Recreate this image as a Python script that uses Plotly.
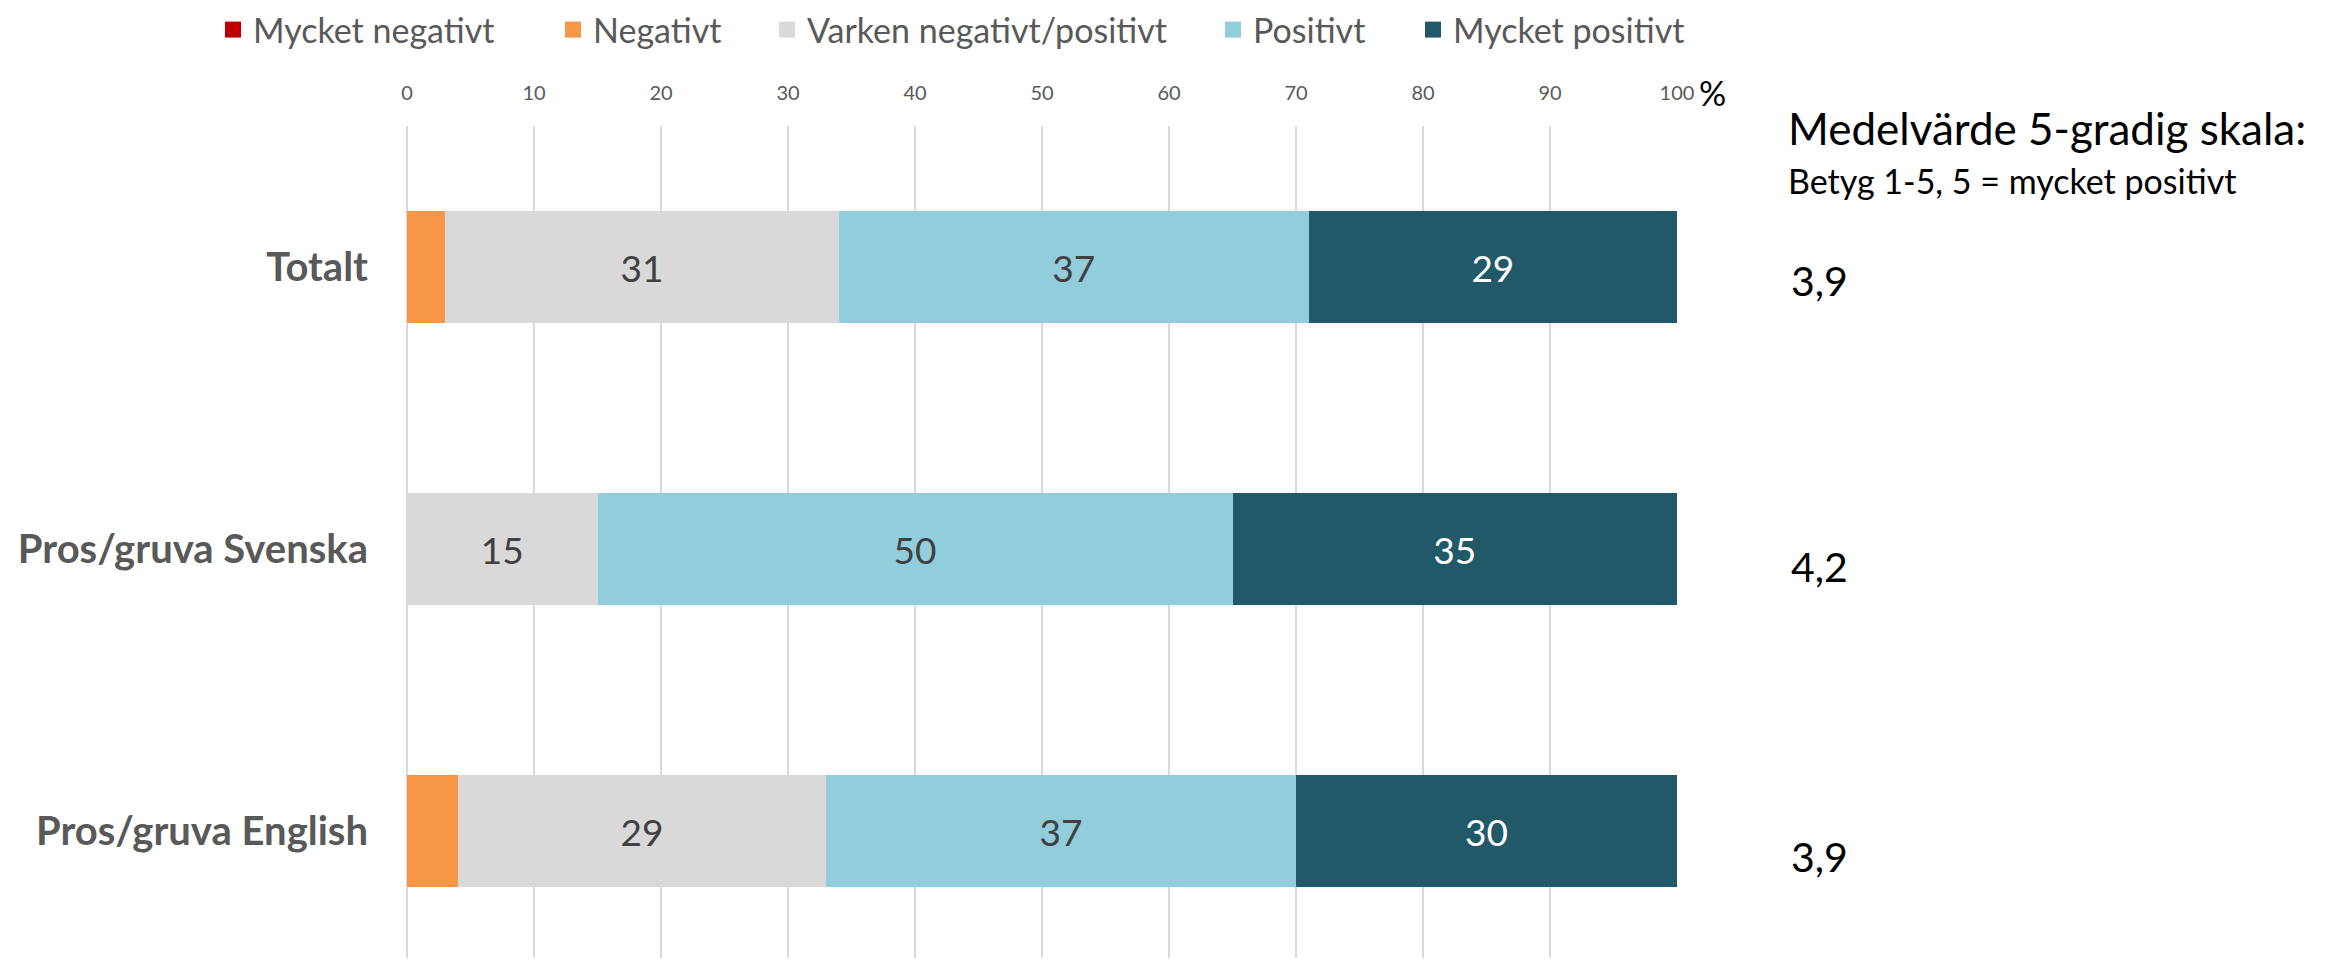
import plotly.graph_objects as go

# ---- data ----
categories = ["Totalt", "Pros/gruva Svenska", "Pros/gruva English"]
series_names = ["Mycket negativt", "Negativt", "Varken negativt/positivt", "Positivt", "Mycket positivt"]
mycket_negativt = [0, 0, 0]
negativt = [3, 0, 4]
varken = [31, 15, 29]
positivt = [37, 50, 37]
mycket_positivt = [29, 35, 30]
medelvarde = ["3,9", "4,2", "3,9"]
x_ticks = [0, 10, 20, 30, 40, 50, 60, 70, 80, 90, 100]

series_values = [mycket_negativt, negativt, varken, positivt, mycket_positivt]
colors = ["#C00000", "#F79646", "#D9D9D9", "#92CDDC", "#215968"]
label_colors = ["#FFFFFF", "#404040", "#404040", "#404040", "#FFFFFF"]

FONT = "Lato"
OFF = 8                      # page body margin
W, H = 2310, 950
ML, MT = 407 - OFF, 126 - OFF
PW = 1677 - 407
MR = W - ML - PW
MB = 0
PH = H - MT - MB
UNIT = 282                   # px per category


def px_x(px):
    return (px - OFF - ML) / PW


def px_y(py):
    return (H - MB - (py - OFF)) / PH


def cx(px):
    return (px - OFF) / W


def cy(py):
    return 1 - (py - OFF) / H


fig = go.Figure()

for i, (name, vals) in enumerate(zip(series_names, series_values)):
    fig.add_trace(go.Bar(
        y=categories, x=vals, orientation="h", name=name,
        marker=dict(color=colors[i], line=dict(width=0)),
        text=[str(v) if v >= 10 else "" for v in vals],
        textposition="inside", insidetextanchor="middle",
        textfont=dict(family=FONT, size=37, color=label_colors[i]),
        constraintext="none",
        showlegend=False, hoverinfo="x+name",
    ))

# legend proxies (one legend per item so spacing matches)
legend_px = [213, 553, 767, 1213, 1413]
for i, name in enumerate(series_names):
    lg = "legend" if i == 0 else f"legend{i+1}"
    fig.add_trace(go.Scatter(
        x=[None], y=[None], mode="markers", name=name,
        marker=dict(symbol="square", size=21, color=colors[i]),
        legend=lg, showlegend=True,
    ))

legend_common = dict(
    orientation="h", yanchor="middle", xanchor="left",
    xref="container", yref="container",
    font=dict(family=FONT, size=34, color="#595959"),
    bgcolor="rgba(0,0,0,0)", borderwidth=0,
)
layout_legends = {}
for i in range(5):
    key = "legend" if i == 0 else f"legend{i+1}"
    layout_legends[key] = dict(legend_common, x=cx(legend_px[i]), y=cy(30))

# mean values on the right
annotations = [
    dict(text="Medelvärde 5-gradig skala:", xref="paper", yref="paper",
         x=px_x(1786), y=px_y(128), xanchor="left", yanchor="middle",
         showarrow=False, font=dict(family=FONT, size=44, color="#000000")),
    dict(text="Betyg 1-5, 5 = mycket positivt", xref="paper", yref="paper",
         x=px_x(1786), y=px_y(180), xanchor="left", yanchor="middle",
         showarrow=False, font=dict(family=FONT, size=34, color="#000000")),
    dict(text="%", xref="paper", yref="paper",
         x=px_x(1712), y=px_y(92), xanchor="center", yanchor="middle",
         showarrow=False, font=dict(family=FONT, size=34, color="#000000")),
]
value_shift = [-13, -17, -25]
for cat, mv, ys in zip(categories, medelvarde, value_shift):
    annotations.append(dict(
        text=mv, xref="paper", yref="y", x=px_x(1789), y=cat,
        xanchor="left", yanchor="middle", yshift=ys, showarrow=False,
        font=dict(family=FONT, size=41, color="#000000")))

fig.update_layout(
    width=W, height=H,
    margin=dict(l=ML, r=MR, t=MT, b=MB, pad=0, autoexpand=False),
    barmode="stack", bargap=0.6,
    plot_bgcolor="white", paper_bgcolor="white",
    annotations=annotations,
    **layout_legends,
)
fig.update_xaxes(
    side="top", range=[0, 100], tickvals=x_ticks,
    showgrid=True, gridcolor="#D9D9D9", gridwidth=2,
    zeroline=True, zerolinecolor="#D9D9D9", zerolinewidth=2,
    showline=False, ticks="", ticklabelstandoff=21, automargin=False,
    tickfont=dict(family=FONT, size=20, color="#595959"),
    fixedrange=True,
)
fig.update_yaxes(
    type="category", categoryarray=categories, categoryorder="array",
    range=[-0.5 + PH / UNIT, -0.5],
    showgrid=False, zeroline=False, showline=False, ticks="",
    ticklabelstandoff=38, automargin=False,
    tickfont=dict(family=FONT, size=40, color="#595959", weight=700),
    fixedrange=True,
)

fig.write_html("out.html")
